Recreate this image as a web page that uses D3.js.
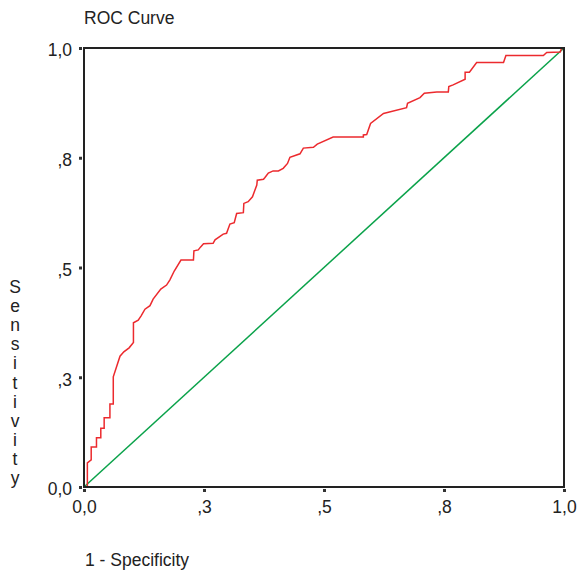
<!DOCTYPE html>
<html>
<head>
<meta charset="utf-8">
<script src="https://cdn.jsdelivr.net/npm/d3@7"></script>
<style>
  body { margin: 0; background: #fff; }
  text { font-family: "Liberation Sans", Arial, sans-serif; fill: #222; }
</style>
</head>
<body>
<div id="chart"></div>
<script>
// ROC curve points (1 - specificity, sensitivity)
const fpr = [0, 0.007, 0.007, 0.015, 0.015, 0.026, 0.026, 0.035, 0.035, 0.042, 0.042, 0.054, 0.054, 0.061, 0.061,
  0.075, 0.083, 0.094, 0.103, 0.103, 0.113, 0.119, 0.127, 0.1375, 0.144, 0.160, 0.172, 0.179, 0.188, 0.202,
  0.228, 0.229, 0.238, 0.243, 0.249, 0.269, 0.273, 0.290, 0.297, 0.304, 0.313, 0.318, 0.332, 0.333, 0.342,
  0.351, 0.360, 0.361, 0.374, 0.377, 0.384, 0.394, 0.405, 0.415, 0.424, 0.429, 0.45, 0.457, 0.478, 0.486,
  0.519, 0.582, 0.582, 0.589, 0.597, 0.624, 0.672, 0.674, 0.7, 0.709, 0.735, 0.759, 0.760, 0.769, 0.794,
  0.794, 0.803, 0.818, 0.874, 0.879, 0.957, 0.964, 0.992, 0.995, 1];
const tpr = [0, 0, 0.055, 0.062, 0.091, 0.091, 0.112, 0.112, 0.134, 0.134, 0.158, 0.158, 0.189, 0.189, 0.251,
  0.298, 0.308, 0.317, 0.329, 0.374, 0.380, 0.390, 0.405, 0.413, 0.428, 0.451, 0.460, 0.472, 0.492, 0.517,
  0.517, 0.538, 0.540, 0.547, 0.554, 0.555, 0.563, 0.576, 0.578, 0.599, 0.602, 0.623, 0.625, 0.646, 0.650,
  0.661, 0.688, 0.699, 0.701, 0.705, 0.715, 0.720, 0.720, 0.726, 0.737, 0.751, 0.759, 0.772, 0.774, 0.781,
  0.797, 0.797, 0.802, 0.803, 0.828, 0.851, 0.864, 0.874, 0.887, 0.897, 0.900, 0.900, 0.912, 0.916, 0.929,
  0.945, 0.945, 0.967, 0.967, 0.983, 0.983, 0.990, 0.991, 0.999, 1];
// reference line
const diag = [0, 1];

const tickValues = [0, 0.25, 0.5, 0.75, 1];
const tickLabels = ['0,0', ',3', ',5', ',8', '1,0'];

const W = 581, H = 573;
const margin = { top: 48, right: 17, bottom: 86, left: 84 };
const width = W - margin.left - margin.right;
const height = H - margin.top - margin.bottom;
const fontSize = '17.5px';

const svg = d3.select('#chart').append('svg')
  .attr('width', W)
  .attr('height', H);

const g = svg.append('g')
  .attr('transform', `translate(${margin.left},${margin.top})`);

const x = d3.scaleLinear().domain([0, 1]).range([0, width]);
const y = d3.scaleLinear().domain([0, 1]).range([height, 0]);

// diagonal reference line
g.append('path')
  .datum(diag)
  .attr('d', d3.line().x(d => x(d)).y(d => y(d)))
  .style('fill', 'none')
  .style('stroke', '#0aa24a')
  .style('stroke-width', 1.5);

// ROC curve
const pts = fpr.map((v, i) => [v, tpr[i]]);
g.append('path')
  .datum(pts)
  .attr('d', d3.line().x(d => x(d[0])).y(d => y(d[1])))
  .style('fill', 'none')
  .style('stroke', '#ec2a2e')
  .style('stroke-width', 1.5);

// frame
g.append('rect')
  .attr('width', width)
  .attr('height', height)
  .style('fill', 'none')
  .style('stroke', '#222')
  .style('stroke-width', 2);

// axes
const xAxis = g.append('g')
  .attr('transform', `translate(0,${height + 2})`)
  .call(d3.axisBottom(x).tickValues(tickValues).tickSize(3).tickPadding(9)
    .tickFormat((d, i) => tickLabels[i]));
const yAxis = g.append('g')
  .attr('transform', 'translate(-2,0)')
  .call(d3.axisLeft(y).tickValues(tickValues).tickSize(3).tickPadding(7)
    .tickFormat((d, i) => tickLabels[i]));

[xAxis, yAxis].forEach(a => {
  a.select('.domain').remove();
  a.selectAll('line').style('stroke', '#333').style('stroke-width', 3);
  a.selectAll('text').style('font-size', fontSize).style('fill', '#222')
    .style('font-family', '"Liberation Sans", Arial, sans-serif');
});
yAxis.selectAll('text').attr('dy', '0.45em');

// title
svg.append('text')
  .attr('x', 84)
  .attr('y', 23.5)
  .style('font-size', fontSize)
  .text('ROC Curve');

// x label
svg.append('text')
  .attr('x', 85)
  .attr('y', 566)
  .style('font-size', fontSize)
  .text('1 - Specificity');

// y label, stacked letters
const yLabel = 'Sensitivity'.split('');
svg.append('g').selectAll('text')
  .data(yLabel)
  .enter().append('text')
  .attr('x', 15)
  .attr('y', (d, i) => 293 + i * 19.1)
  .style('text-anchor', 'middle')
  .style('font-size', fontSize)
  .text(d => d);
</script>
</body>
</html>
